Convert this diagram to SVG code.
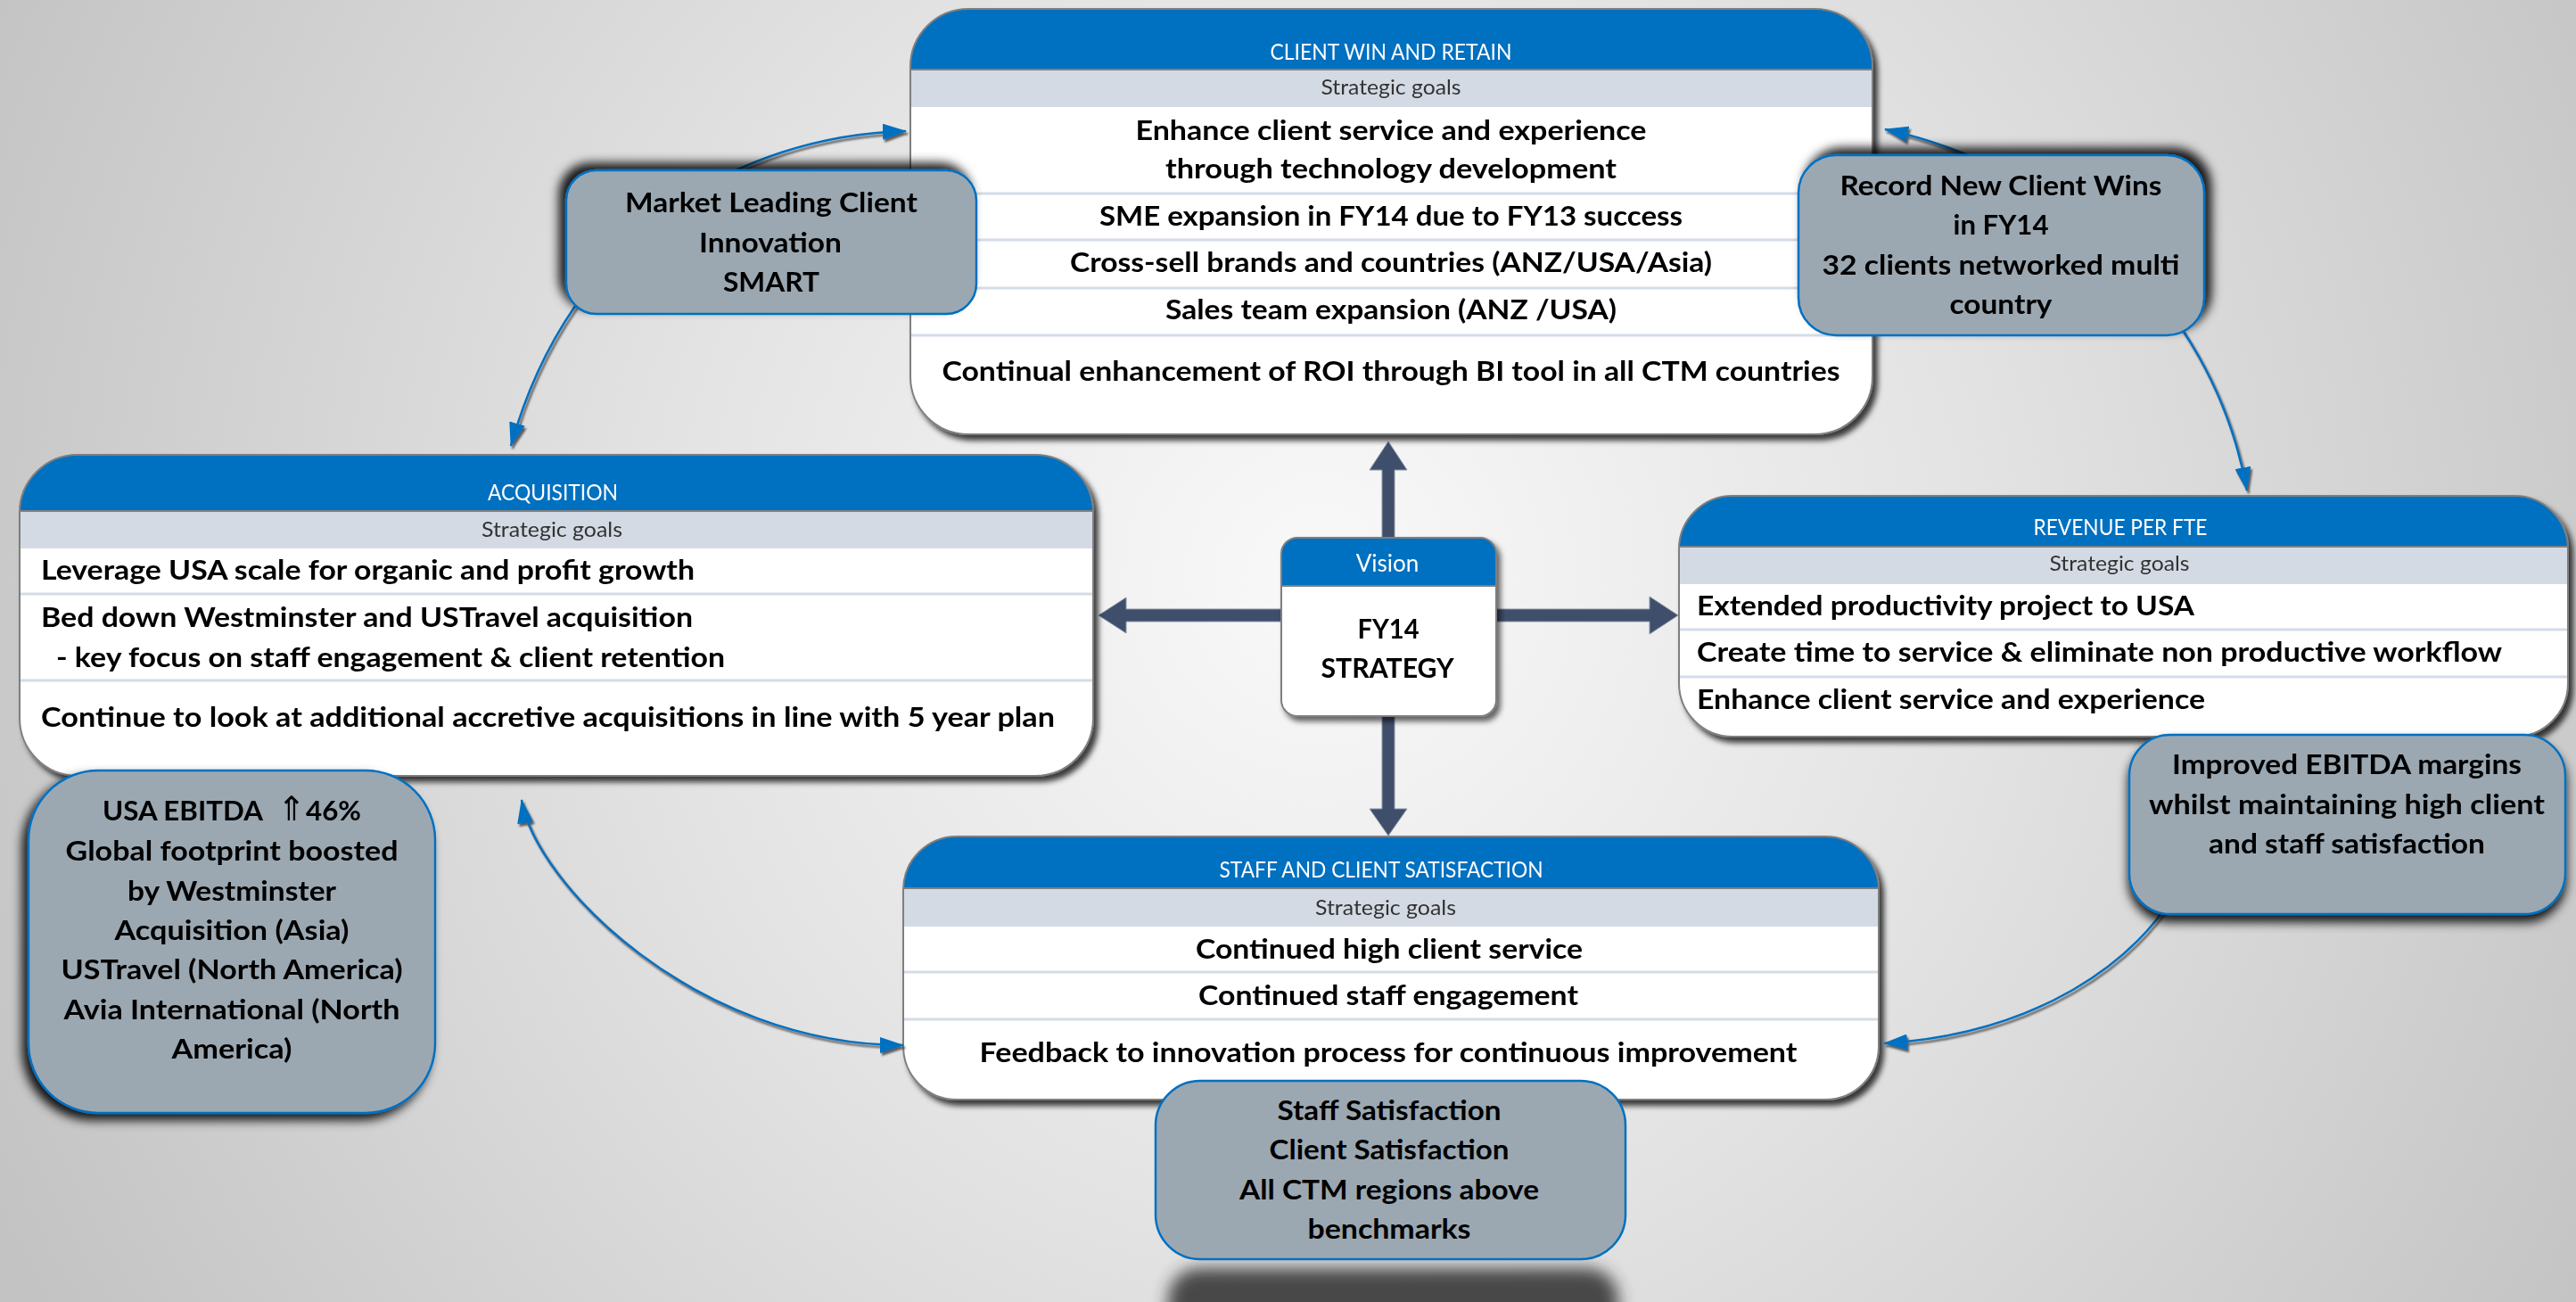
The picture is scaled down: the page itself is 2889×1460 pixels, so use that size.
<svg xmlns="http://www.w3.org/2000/svg" width="2889" height="1460" viewBox="0 0 2889 1460">
<defs>
  <radialGradient id="bg" gradientUnits="userSpaceOnUse" cx="1480" cy="650" r="1650">
    <stop offset="0" stop-color="#F9F9F9"/>
    <stop offset="0.45" stop-color="#E3E3E3"/>
    <stop offset="1" stop-color="#C3C3C3"/>
  </radialGradient>
  <filter id="boxShadow" x="-5%" y="-5%" width="115%" height="120%">
    <feDropShadow dx="5" dy="6" stdDeviation="3" flood-color="#000" flood-opacity="0.75"/>
  </filter>
  <filter id="visShadow" x="-10%" y="-10%" width="125%" height="125%">
    <feDropShadow dx="4" dy="5" stdDeviation="3" flood-color="#000" flood-opacity="0.6"/>
  </filter>
  <filter id="shTL" x="-15%" y="-25%" width="130%" height="150%">
    <feDropShadow dx="-7" dy="-7" stdDeviation="6" flood-color="#000" flood-opacity="0.9"/>
  </filter>
  <filter id="shTR" x="-15%" y="-25%" width="130%" height="150%">
    <feDropShadow dx="7" dy="-7" stdDeviation="6" flood-color="#000" flood-opacity="0.9"/>
  </filter>
  <filter id="shBL" x="-15%" y="-15%" width="130%" height="130%">
    <feDropShadow dx="-6" dy="7" stdDeviation="6" flood-color="#000" flood-opacity="0.9"/>
  </filter>
  <filter id="shB" x="-15%" y="-15%" width="130%" height="140%">
    <feDropShadow dx="0" dy="8" stdDeviation="6" flood-color="#000" flood-opacity="0.9"/>
  </filter>
  <filter id="blur8" x="-20%" y="-60%" width="140%" height="220%">
    <feGaussianBlur stdDeviation="9"/>
  </filter>
  <filter id="lineShadow" x="-10%" y="-10%" width="120%" height="120%">
    <feDropShadow dx="2" dy="3" stdDeviation="0.8" flood-color="#444" flood-opacity="0.85"/>
  </filter>
  <marker id="ah" viewBox="0 0 27 18" refX="26" refY="9" markerWidth="27" markerHeight="18" markerUnits="userSpaceOnUse" orient="auto-start-reverse">
    <path d="M0,0 L27,9 L0,18 z" fill="#0070C0"/>
  </marker>
  <clipPath id="cpTop"><rect x="1021" y="10" width="1079" height="477" rx="65"/></clipPath>
  <clipPath id="cpAcq"><rect x="22" y="510" width="1204" height="360" rx="65"/></clipPath>
  <clipPath id="cpRev"><rect x="1883" y="556" width="997" height="270" rx="60"/></clipPath>
  <clipPath id="cpStaff"><rect x="1013" y="938" width="1094" height="295" rx="60"/></clipPath>
  <clipPath id="cpVis"><rect x="1437" y="603" width="241" height="200" rx="18"/></clipPath>
  <style>
    text { font-family: Lato, "Open Sans", "Liberation Sans", sans-serif; }
    .body { font-size: 30px; font-weight: 700; fill: #000; }
    .c { text-anchor: middle; }
    .hdr { font-size: 25px; font-weight: 400; fill: #FFFFFF; text-anchor: middle; }
    .sg { font-size: 24px; font-weight: 400; fill: #333333; text-anchor: middle; }
    .co { font-size: 31px; font-weight: 700; fill: #000; text-anchor: middle; }
    .boxfill { fill: #FFFFFF; }
    .head { fill: #0070C0; }
    .band { fill: #D3DAE4; }
    .row { stroke: #D4DCE8; stroke-width: 3; }
    .hline { stroke: #7F7F7F; stroke-width: 2; }
    .outline { fill: none; stroke: #7F7F7F; stroke-width: 2; }
    .callout { fill: #9BA8B2; stroke: #0070C0; stroke-width: 2.5; }
    .conn { fill: none; stroke: #0070C0; stroke-width: 2.5; }
    .varrow { fill: #3F4F6B; stroke: #8A94A6; stroke-width: 1; }
  </style>
</defs>

<rect x="0" y="0" width="2889" height="1460" fill="url(#bg)"/>

<!-- Vision arrows -->
<g id="vision-arrows">
  <polygon class="varrow" points="1550,610 1550,527 1536,527 1557,495 1578,527 1564,527 1564,610"/>
  <polygon class="varrow" points="1550,796 1550,907 1536,907 1557,937 1578,907 1564,907 1564,796"/>
  <polygon class="varrow" points="1670,683 1850,683 1850,669 1882,690 1850,711 1850,697 1670,697"/>
  <polygon class="varrow" points="1445,683 1263,683 1263,670 1232,690 1263,710 1263,697 1445,697"/>
</g>

<!-- CLIENT WIN AND RETAIN -->
<g id="client-win-retain" filter="url(#boxShadow)">
  <rect class="boxfill" x="1021" y="10" width="1079" height="477" rx="65"/>
  <g clip-path="url(#cpTop)">
    <rect class="head" x="1021" y="10" width="1079" height="68"/>
    <rect class="band" x="1021" y="78" width="1079" height="42"/>
    <line class="row" x1="1021" y1="217" x2="2100" y2="217"/>
    <line class="row" x1="1021" y1="269" x2="2100" y2="269"/>
    <line class="row" x1="1021" y1="323" x2="2100" y2="323"/>
    <line class="row" x1="1021" y1="376" x2="2100" y2="376"/>
    <line class="hline" x1="1021" y1="78" x2="2100" y2="78"/>
  </g>
  <rect class="outline" x="1021" y="10" width="1079" height="477" rx="65"/>
  <text class="hdr" x="1560" y="67" textLength="271" lengthAdjust="spacingAndGlyphs">CLIENT WIN AND RETAIN</text>
  <text class="sg" x="1560" y="106" textLength="157" lengthAdjust="spacingAndGlyphs">Strategic goals</text>
  <text class="body c" x="1560" y="157" textLength="573" lengthAdjust="spacingAndGlyphs">Enhance client service and experience</text>
  <text class="body c" x="1560" y="200" textLength="506" lengthAdjust="spacingAndGlyphs">through technology development</text>
  <text class="body c" x="1560" y="253" textLength="654" lengthAdjust="spacingAndGlyphs">SME expansion in FY14 due to FY13 success</text>
  <text class="body c" x="1560" y="305" textLength="720" lengthAdjust="spacingAndGlyphs">Cross-sell brands and countries (ANZ/USA/Asia)</text>
  <text class="body c" x="1560" y="358" textLength="506" lengthAdjust="spacingAndGlyphs">Sales team expansion (ANZ /USA)</text>
  <text class="body c" x="1560" y="427" textLength="1007" lengthAdjust="spacingAndGlyphs">Continual enhancement of ROI through BI tool in all CTM countries</text>
</g>

<!-- ACQUISITION -->
<g id="acquisition" filter="url(#boxShadow)">
  <rect class="boxfill" x="22" y="510" width="1204" height="360" rx="65"/>
  <g clip-path="url(#cpAcq)">
    <rect class="head" x="22" y="510" width="1204" height="63"/>
    <rect class="band" x="22" y="573" width="1204" height="42"/>
    <line class="row" x1="22" y1="666" x2="1226" y2="666"/>
    <line class="row" x1="22" y1="763" x2="1226" y2="763"/>
    <line class="hline" x1="22" y1="573" x2="1226" y2="573"/>
  </g>
  <rect class="outline" x="22" y="510" width="1204" height="360" rx="65"/>
  <text class="hdr" x="620" y="561" textLength="146" lengthAdjust="spacingAndGlyphs">ACQUISITION</text>
  <text class="sg" x="619" y="602" textLength="158" lengthAdjust="spacingAndGlyphs">Strategic goals</text>
  <text class="body" x="46" y="650" textLength="733" lengthAdjust="spacingAndGlyphs">Leverage USA scale for organic and profit growth</text>
  <text class="body" x="46" y="703" textLength="731" lengthAdjust="spacingAndGlyphs">Bed down Westminster and USTravel acquisition</text>
  <text class="body" x="63" y="748" textLength="750" lengthAdjust="spacingAndGlyphs">- key focus on staff engagement &amp; client retention</text>
  <text class="body" x="46" y="815" textLength="1137" lengthAdjust="spacingAndGlyphs">Continue to look at additional accretive acquisitions in line with 5 year plan</text>
</g>

<!-- REVENUE PER FTE -->
<g id="revenue-per-fte" filter="url(#boxShadow)">
  <rect class="boxfill" x="1883" y="556" width="997" height="270" rx="60"/>
  <g clip-path="url(#cpRev)">
    <rect class="head" x="1883" y="556" width="997" height="57"/>
    <rect class="band" x="1883" y="613" width="997" height="42"/>
    <line class="row" x1="1883" y1="706" x2="2880" y2="706"/>
    <line class="row" x1="1883" y1="759" x2="2880" y2="759"/>
    <line class="hline" x1="1883" y1="613" x2="2880" y2="613"/>
  </g>
  <rect class="outline" x="1883" y="556" width="997" height="270" rx="60"/>
  <text class="hdr" x="2378" y="600" textLength="195" lengthAdjust="spacingAndGlyphs">REVENUE PER FTE</text>
  <text class="sg" x="2377" y="640" textLength="157" lengthAdjust="spacingAndGlyphs">Strategic goals</text>
  <text class="body" x="1903" y="690" textLength="558" lengthAdjust="spacingAndGlyphs">Extended productivity project to USA</text>
  <text class="body" x="1903" y="742" textLength="903" lengthAdjust="spacingAndGlyphs">Create time to service &amp; eliminate non productive workflow</text>
  <text class="body" x="1903" y="795" textLength="570" lengthAdjust="spacingAndGlyphs">Enhance client service and experience</text>
</g>

<!-- STAFF AND CLIENT SATISFACTION -->
<g id="staff-client-satisfaction" filter="url(#boxShadow)">
  <rect class="boxfill" x="1013" y="938" width="1094" height="295" rx="60"/>
  <g clip-path="url(#cpStaff)">
    <rect class="head" x="1013" y="938" width="1094" height="58"/>
    <rect class="band" x="1013" y="996" width="1094" height="43"/>
    <line class="row" x1="1013" y1="1090" x2="2107" y2="1090"/>
    <line class="row" x1="1013" y1="1143" x2="2107" y2="1143"/>
    <line class="hline" x1="1013" y1="996" x2="2107" y2="996"/>
  </g>
  <rect class="outline" x="1013" y="938" width="1094" height="295" rx="60"/>
  <text class="hdr" x="1549" y="984" textLength="363" lengthAdjust="spacingAndGlyphs">STAFF AND CLIENT SATISFACTION</text>
  <text class="sg" x="1554" y="1026" textLength="158" lengthAdjust="spacingAndGlyphs">Strategic goals</text>
  <text class="body c" x="1558" y="1075" textLength="434" lengthAdjust="spacingAndGlyphs">Continued high client service</text>
  <text class="body c" x="1557" y="1127" textLength="426" lengthAdjust="spacingAndGlyphs">Continued staff engagement</text>
  <text class="body c" x="1557" y="1191" textLength="917" lengthAdjust="spacingAndGlyphs">Feedback to innovation process for continuous improvement</text>
</g>

<!-- VISION -->
<g id="vision" filter="url(#visShadow)">
  <rect class="boxfill" x="1437" y="603" width="241" height="200" rx="18"/>
  <g clip-path="url(#cpVis)">
    <rect class="head" x="1437" y="603" width="241" height="54"/>
    <line class="hline" x1="1437" y1="657" x2="1678" y2="657"/>
  </g>
  <rect class="outline" x="1437" y="603" width="241" height="200" rx="18"/>
  <text class="hdr" x="1556" y="641" style="font-size:26px">Vision</text>
  <text class="body c" x="1557" y="716" textLength="69" lengthAdjust="spacingAndGlyphs" style="font-size:31px">FY14</text>
  <text class="body c" x="1556" y="760" textLength="149" lengthAdjust="spacingAndGlyphs" style="font-size:31px">STRATEGY</text>
</g>

<!-- Connectors -->
<g id="connectors" filter="url(#lineShadow)">
  <path class="conn" d="M1016,147 C830,152 640,260 573,500" marker-start="url(#ah)" marker-end="url(#ah)"/>
  <path class="conn" d="M2114,145 C2300,185 2480,330 2520,550" marker-start="url(#ah)" marker-end="url(#ah)"/>
  <path class="conn" d="M2445,990 C2400,1080 2280,1160 2113,1170" marker-end="url(#ah)"/>
  <path class="conn" d="M585,897 C600,990 780,1172 1013,1172" marker-start="url(#ah)" marker-end="url(#ah)"/>
</g>

<!-- Callouts -->
<g id="callout-market-leading" filter="url(#shTL)">
  <rect class="callout" x="635" y="191" width="460" height="161" rx="34"/>
  <text class="co" x="865" y="238" textLength="328" lengthAdjust="spacingAndGlyphs">Market Leading Client</text>
  <text class="co" x="864" y="283" textLength="160" lengthAdjust="spacingAndGlyphs">Innovation</text>
  <text class="co" x="865" y="327" textLength="108" lengthAdjust="spacingAndGlyphs">SMART</text>
</g>

<g id="callout-record-wins" filter="url(#shTR)">
  <rect class="callout" x="2017" y="174" width="455" height="202" rx="42"/>
  <text class="co" x="2244" y="219" textLength="361" lengthAdjust="spacingAndGlyphs">Record New Client Wins</text>
  <text class="co" x="2244" y="263" textLength="107" lengthAdjust="spacingAndGlyphs">in FY14</text>
  <text class="co" x="2244" y="308" textLength="401" lengthAdjust="spacingAndGlyphs">32 clients networked multi</text>
  <text class="co" x="2244" y="352" textLength="115" lengthAdjust="spacingAndGlyphs">country</text>
</g>

<g id="callout-improved-ebitda" filter="url(#shB)">
  <rect class="callout" x="2388" y="824" width="489" height="201" rx="46"/>
  <text class="co" x="2632" y="868" textLength="392" lengthAdjust="spacingAndGlyphs">Improved EBITDA margins</text>
  <text class="co" x="2632" y="913" textLength="444" lengthAdjust="spacingAndGlyphs">whilst maintaining high client</text>
  <text class="co" x="2632" y="957" textLength="310" lengthAdjust="spacingAndGlyphs">and staff satisfaction</text>
</g>

<g id="callout-usa-ebitda" filter="url(#shBL)">
  <rect class="callout" x="32" y="864" width="456" height="384" rx="78"/>
  <text class="co" style="text-anchor:start" y="920"><tspan x="115" textLength="180" lengthAdjust="spacingAndGlyphs">USA EBITDA</tspan><tspan x="311" style="font-family:'DejaVu Sans',sans-serif;font-weight:400;font-size:38px">⇑</tspan><tspan x="343" textLength="62" lengthAdjust="spacingAndGlyphs">46%</tspan></text>
  <text class="co" x="260" y="965" textLength="373" lengthAdjust="spacingAndGlyphs">Global footprint boosted</text>
  <text class="co" x="260" y="1010" textLength="234" lengthAdjust="spacingAndGlyphs">by Westminster</text>
  <text class="co" x="260" y="1054" textLength="263" lengthAdjust="spacingAndGlyphs">Acquisition (Asia)</text>
  <text class="co" x="260" y="1098" textLength="383" lengthAdjust="spacingAndGlyphs">USTravel (North America)</text>
  <text class="co" x="260" y="1143" textLength="377" lengthAdjust="spacingAndGlyphs">Avia International (North</text>
  <text class="co" x="260" y="1187" textLength="135" lengthAdjust="spacingAndGlyphs">America)</text>
</g>

<g id="callout-staff-satisfaction">
  <rect x="1310" y="1422" width="505" height="80" rx="35" fill="#2E2E2E" opacity="0.85" filter="url(#blur8)"/>
  <rect class="callout" x="1296" y="1212" width="527" height="200" rx="50"/>
  <text class="co" x="1558" y="1256" textLength="251" lengthAdjust="spacingAndGlyphs">Staff Satisfaction</text>
  <text class="co" x="1558" y="1300" textLength="269" lengthAdjust="spacingAndGlyphs">Client Satisfaction</text>
  <text class="co" x="1558" y="1345" textLength="336" lengthAdjust="spacingAndGlyphs">All CTM regions above</text>
  <text class="co" x="1558" y="1389" textLength="183" lengthAdjust="spacingAndGlyphs">benchmarks</text>
</g>
</svg>
